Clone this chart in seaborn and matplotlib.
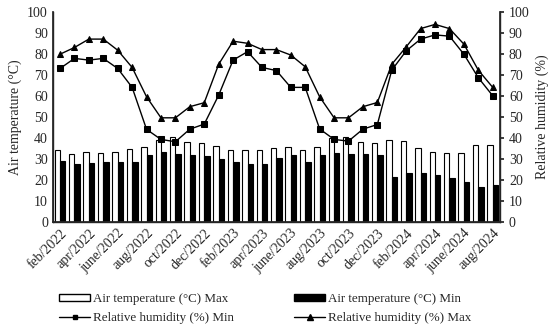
import pandas as pd
import matplotlib
matplotlib.use("Agg")
import matplotlib.pyplot as plt
import seaborn as sns
from matplotlib.patches import Patch
from matplotlib.lines import Line2D

sns.set_theme(style="ticks")
plt.rcParams['font.family'] = ['Liberation Serif', 'DejaVu Serif']

months = ['feb/2022', 'mar/2022', 'apr/2022', 'may/2022', 'june/2022', 'july/2022',
          'aug/2022', 'sep/2022', 'oct/2022', 'nov/2022', 'dec/2022', 'jan/2023',
          'feb/2023', 'mar/2023', 'apr/2023', 'may/2023', 'june/2023', 'july/2023',
          'aug/2023', 'sep/2023', 'oct/2023', 'nov/2023', 'dec/2023', 'jan/2024',
          'feb/2024', 'mar/2024', 'apr/2024', 'may/2024', 'june/2024', 'july/2024',
          'aug/2024']

temp_max = [34.4, 32.5, 33.0, 32.9, 33.0, 34.6, 35.7, 38.9, 40.2, 37.8, 37.3, 36.0,
            34.1, 34.1, 34.1, 35.1, 35.4, 34.4, 35.4, 39.7, 40.2, 38.1, 37.6, 38.9,
            38.6, 34.9, 33.3, 32.9, 32.9, 36.5, 36.5]
temp_min = [29.0, 27.3, 27.8, 28.3, 28.3, 28.6, 31.6, 33.0, 32.5, 32.0, 31.4, 29.8,
            28.3, 27.3, 27.3, 30.5, 31.7, 28.6, 31.7, 32.9, 32.5, 32.1, 31.7, 21.4,
            23.0, 23.0, 22.2, 21.0, 19.0, 16.7, 17.5]
rh_max = [79.8, 83.0, 87.0, 87.0, 81.7, 73.5, 59.5, 49.5, 49.5, 54.8, 56.7, 75.0,
          86.0, 85.0, 82.0, 82.0, 79.4, 73.8, 59.5, 49.5, 49.5, 54.8, 56.8, 75.0,
          83.3, 92.0, 94.0, 92.0, 84.6, 72.2, 64.0]
rh_min = [73.0, 77.8, 77.0, 77.8, 73.0, 64.0, 44.0, 39.2, 38.1, 44.1, 46.5, 60.3,
          77.0, 81.0, 73.5, 72.0, 64.0, 64.0, 44.2, 39.2, 38.4, 44.1, 46.3, 72.2,
          81.4, 87.0, 89.0, 88.4, 79.8, 68.6, 60.0]

lbl_max = 'Air temperature (°C) Max'
lbl_min = 'Air temperature (°C) Min'

temp = pd.DataFrame({'month': months * 2,
                     'value': temp_max + temp_min,
                     'kind': [lbl_max] * len(months) + [lbl_min] * len(months)})

fig, ax = plt.subplots(figsize=(5.5, 3.28), dpi=100)
fig.subplots_adjust(left=0.096, right=0.909, top=0.964, bottom=0.324)

sns.barplot(data=temp, x='month', y='value', hue='kind', ax=ax,
            palette={lbl_max: 'white', lbl_min: 'black'},
            edgecolor='black', linewidth=0.8, width=0.75, legend=False)

ax2 = ax.twinx()
sns.pointplot(x=months, y=rh_min, ax=ax2, color='black', markers='s',
              markersize=4, linewidth=1)
sns.pointplot(x=months, y=rh_max, ax=ax2, color='black', markers='^',
              markersize=4.5, linewidth=1)

for a in (ax, ax2):
    a.set_ylim(0, 100)
    a.set_yticks(range(0, 101, 10))
    a.tick_params(labelsize=10)
    a.spines['top'].set_visible(False)
ax.set_xlim(-0.5, len(months) - 0.5)
ax.set_ylabel('Air temperature (°C)', fontsize=10)
ax2.set_ylabel('Relative humidity (%)', fontsize=10)
ax.set_xlabel('')
ax.tick_params(axis='y', length=0)
ax.tick_params(axis='x', length=0)
ax2.tick_params(axis='y', length=3, direction='out')

ax.set_xticks(range(0, len(months), 2))
ax.set_xticklabels(months[::2], rotation=45, ha='right', rotation_mode='anchor')
for s in ax.spines.values():
    s.set_linewidth(1)

# column-wise fill: col 1 = Max bar, RH Min ; col 2 = Min bar, RH Max
handles = [Patch(facecolor='white', edgecolor='black', label=lbl_max),
           Line2D([], [], color='black', marker='s', markersize=3, lw=1,
                  label='Relative humidity (%) Min'),
           Patch(facecolor='black', edgecolor='black', label=lbl_min),
           Line2D([], [], color='black', marker='^', markersize=4, lw=1,
                  label='Relative humidity (%) Max')]
fig.legend(handles=handles, ncol=2, frameon=False, fontsize=9.4,
           loc='lower left', bbox_to_anchor=(0.086, -0.025),
           columnspacing=4.6, handlelength=2.4, handleheight=0.45,
           handletextpad=0.2, labelspacing=0.55)

fig.savefig('out.png', dpi=100)
